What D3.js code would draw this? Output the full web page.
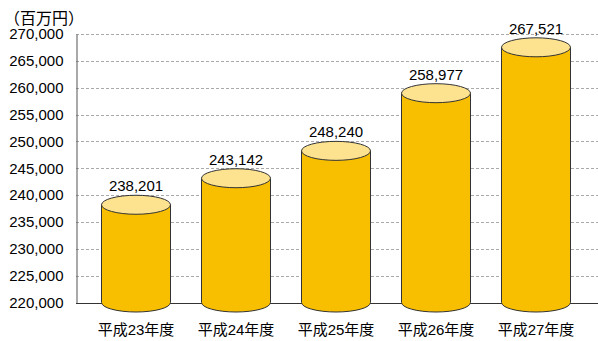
<!DOCTYPE html>
<html>
<head>
<meta charset="utf-8">
<script src="https://cdn.jsdelivr.net/npm/d3@7"></script>
<style>
  body { margin: 0; background: #fff; }
  text { font-family: "Liberation Sans", Arial, "Noto Sans CJK JP", sans-serif; }
</style>
</head>
<body>
<div id="chart"></div>
<script>
const w = 598;
const h = 341;

const categories = ['平成23年度', '平成24年度', '平成25年度', '平成26年度', '平成27年度'];
const values = [238201, 243142, 248240, 258977, 267521];
const yTicks = [220000, 225000, 230000, 235000, 240000, 245000, 250000, 255000, 260000, 265000, 270000];
const unitLabel = '（百万円）';

const plotLeft = 76, plotTop = 34, plotBottom = 302.5;
const ry = 9.5;

const svg = d3.select('#chart')
  .append('svg')
  .attr('width', w)
  .attr('height', h);

const xScale = d3.scaleBand()
  .domain(categories)
  .range([86, 586])
  .paddingInner(0.31)
  .paddingOuter(0.155);

const yScale = d3.scaleLinear()
  .domain([220000, 270000])
  .range([plotBottom, plotTop]);

// grid
svg.append('g')
  .selectAll('line')
  .data(yTicks.slice(1))
  .enter()
  .append('line')
  .attr('x1', plotLeft)
  .attr('x2', w)
  .attr('y1', d => Math.round(yScale(d)) + 0.5)
  .attr('y2', d => Math.round(yScale(d)) + 0.5)
  .attr('stroke', '#aaa')
  .attr('stroke-dasharray', '3,2');

// y axis
const yAxis = d3.axisLeft(yScale)
  .tickValues(yTicks)
  .tickSize(0)
  .tickPadding(13)
  .tickFormat(d3.format(','));

const gy = svg.append('g')
  .attr('transform', 'translate(' + (plotLeft + 0.5) + ',0)')
  .call(yAxis);
gy.select('.domain').attr('stroke', '#555');
gy.selectAll('text')
  .style('font-size', '15px')
  .attr('fill', '#000');

// baseline
svg.append('line')
  .attr('x1', plotLeft)
  .attr('x2', w)
  .attr('y1', Math.round(plotBottom) + 0.5)
  .attr('y2', Math.round(plotBottom) + 0.5)
  .attr('stroke', '#333');

// cylinders
const rx = xScale.bandwidth() / 2;
const bars = svg.append('g')
  .selectAll('g')
  .data(values)
  .enter()
  .append('g')
  .attr('transform', (d, i) => 'translate(' + (xScale(categories[i]) + rx) + ',0)');

bars.append('path')
  .attr('d', d => {
    const yt = yScale(d);
    return 'M' + (-rx) + ',' + yt +
      'L' + (-rx) + ',' + plotBottom +
      'A' + rx + ',' + ry + ' 0 0 0 ' + rx + ',' + plotBottom +
      'L' + rx + ',' + yt + 'Z';
  })
  .attr('fill', '#f8be00')
  .attr('stroke', '#333')
  .attr('stroke-width', 1);

bars.append('ellipse')
  .attr('cx', 0)
  .attr('cy', d => yScale(d))
  .attr('rx', rx)
  .attr('ry', ry)
  .attr('fill', '#fde28f')
  .attr('stroke', '#333')
  .attr('stroke-width', 1);

bars.append('text')
  .attr('x', 0)
  .attr('y', d => yScale(d) - ry - 4)
  .attr('text-anchor', 'middle')
  .style('font-size', '15px')
  .text(d => d3.format(',')(d));

// category labels
svg.append('g')
  .selectAll('text')
  .data(categories)
  .enter()
  .append('text')
  .attr('x', d => xScale(d) + rx)
  .attr('y', 335)
  .attr('text-anchor', 'middle')
  .style('font-size', '15px')
  .text(d => d);

svg.append('text')
  .attr('x', 4)
  .attr('y', 24)
  .style('font-size', '16px')
  .text(unitLabel);
</script>
</body>
</html>
